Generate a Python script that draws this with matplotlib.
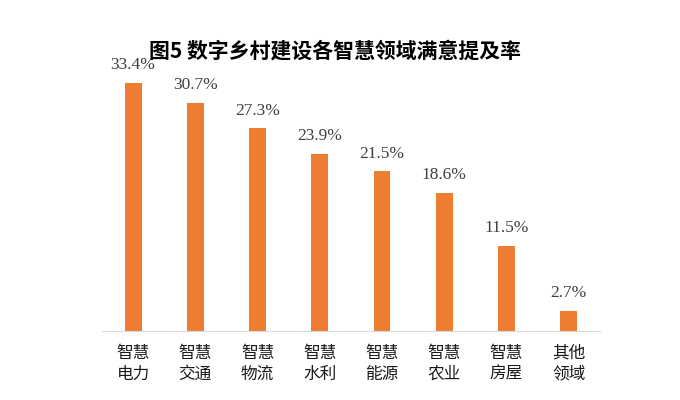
import matplotlib.pyplot as plt
import numpy as np

plt.rcParams['font.family'] = ['Noto Sans CJK SC', 'DejaVu Sans']

categories = ['智慧\n电力', '智慧\n交通', '智慧\n物流', '智慧\n水利', '智慧\n能源', '智慧\n农业', '智慧\n房屋', '其他\n领域']
values = [33.4, 30.7, 27.3, 23.9, 21.5, 18.6, 11.5, 2.7]

fig = plt.figure(figsize=(6.8, 4.0), dpi=100)
ax = fig.add_axes([0.15, 0.1725, 0.732, 0.6775])
x = np.arange(len(categories))
ax.bar(x, values, width=0.27, color='#ED7D31')
for xi, v in zip(x, values):
    ax.text(xi, v + 1.3, f'{v}%', ha='center', va='bottom', fontsize=12.5,
            family='Liberation Serif', color='#404040')

ax.set_xlim(-0.5, len(categories) - 0.5)
ax.set_ylim(0, 36.5)
ax.set_xticks(x)
ax.set_xticklabels(categories, fontsize=12, color='#1a1a1a', linespacing=1.3)
ax.tick_params(axis='x', length=0, pad=10)
ax.set_yticks([])
for s in ['top', 'right', 'left']:
    ax.spines[s].set_visible(False)
ax.spines['bottom'].set_color('#d9d9d9')

fig.text(0.493, 0.873, '图5 数字乡村建设各智慧领域满意提及率', ha='center', va='center',
         fontsize=15, fontweight='bold', color='black')

fig.savefig('out.png', dpi=100)
